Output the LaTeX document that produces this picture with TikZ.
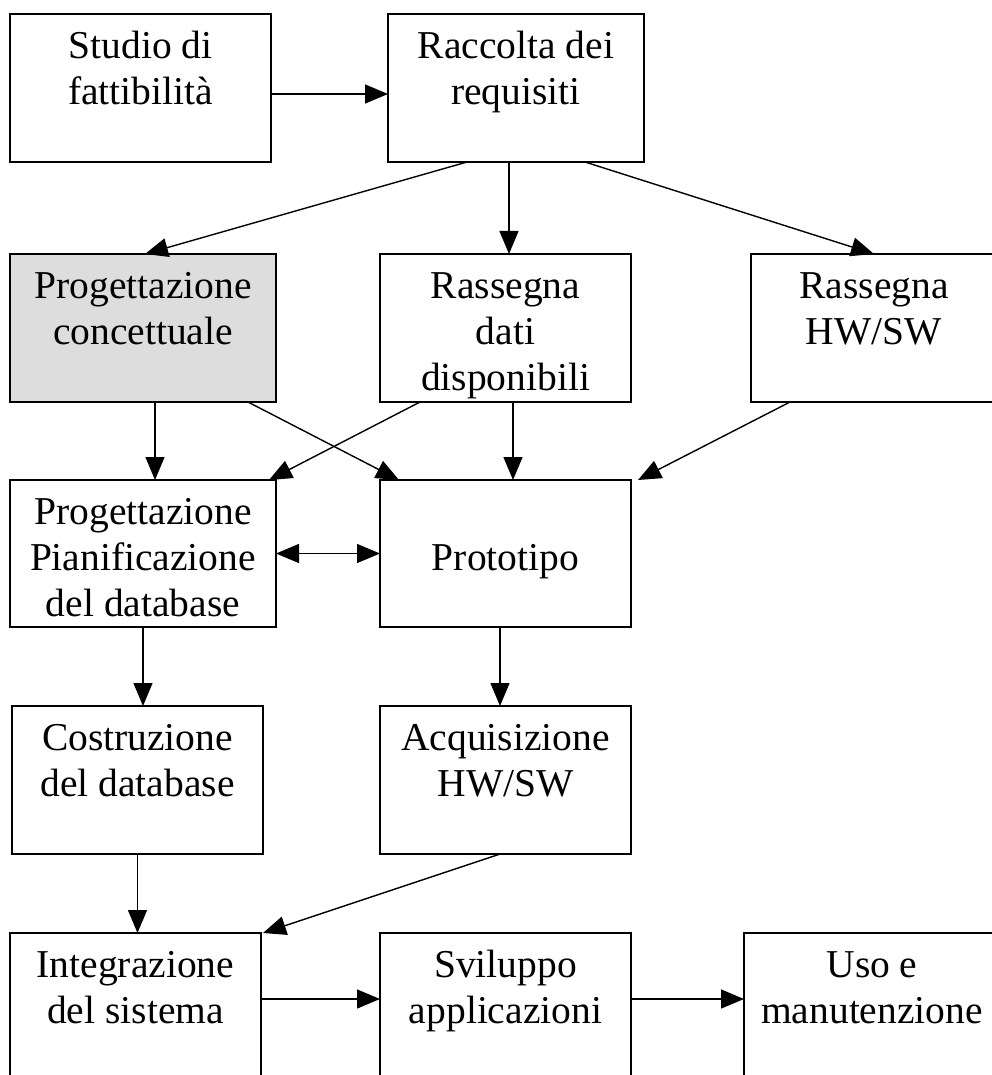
\documentclass[tikz,border=0pt]{standalone}
\usepackage{fontspec}
\setmainfont{Liberation Serif}
\usetikzlibrary{arrows.meta}
\definecolor{shade}{RGB}{221,221,221}
% box content: width, height (pt), lines of text set from the top
\newcommand\boxlines[3]{\begin{minipage}[c][#2pt][t]{#1pt}\centering\fontsize{39.5}{46}\selectfont\rule{0pt}{44.5pt}#3\end{minipage}}
\begin{document}
\begin{tikzpicture}[x=1pt,y=-1pt,
  box/.style={draw, line width=1.8pt, inner sep=0pt, outer sep=0pt, anchor=north west},
  tip/.tip={Triangle[length=23pt,width=19pt]},
  arr/.style={line width=1.4pt, -tip},
  arrboth/.style={line width=1.4pt, tip-tip}]
\useasboundingbox (0,0) rectangle (992,1075);
\clip (0,0) rectangle (992,1075);

% phases
\node[box] (b1) at (10,14) {\boxlines{261}{148}{Studio di\\fattibilità}};
\node[box] (b2) at (388,14) {\boxlines{256}{148}{Raccolta dei\\requisiti}};
\node[box, fill=shade] (b3) at (10,254) {\boxlines{266}{148}{Progettazione\\concettuale}};
\node[box] (b4) at (380,254) {\boxlines{251}{148}{Rassegna\\dati\\disponibili}};
\node[box] (b5) at (751,254) {\boxlines{246}{148}{Rassegna\\HW/SW}};
\node[box] (b6) at (10,480) {\boxlines{266}{147}{Progettazione\\Pianificazione\\del database}};
\node[box] (b7) at (380,480) {\boxlines{251}{147}{\mbox{}\\Prototipo}};
\node[box] (b8) at (12,706) {\boxlines{251}{148}{Costruzione\\del database}};
\node[box] (b9) at (380,706) {\boxlines{251}{148}{Acquisizione\\HW/SW}};
\node[box] (b10) at (10,933) {\boxlines{251}{160}{Integrazione\\del sistema}};
\node[box] (b11) at (380,933) {\boxlines{251}{160}{Sviluppo\\applicazioni}};
\node[box] (b12) at (744,933) {\boxlines{256}{160}{Uso e\\manutenzione}};

% flow
\draw[arr] ([yshift=-6pt]b1.east) -- ([yshift=-6pt]b2.west);
\draw[arr] ([xshift=-49pt]b2.south) -- ([xshift=2pt]b3.north);
\coordinate (d3) at ([xshift=-7pt]b2.south);
\draw[arr] (d3) -- (d3 |- b4.north);
\draw[arr] ([xshift=69pt]b2.south) -- (b5.north);
\coordinate (d5) at ([xshift=12pt]b3.south);
\draw[arr] (d5) -- (d5 |- b6.north);
\draw[arr] ([xshift=105pt]b3.south) -- ([xshift=19pt]b7.north west);
\draw[arr] ([xshift=-85.5pt]b4.south) -- ([xshift=-7pt]b6.north east);
\coordinate (d8) at ([xshift=7.5pt]b4.south);
\draw[arr] (d8) -- (d8 |- b7.north);
\draw[arr] ([xshift=-84pt]b5.south) -- ([xshift=7pt]b7.north east);
\draw[arrboth] (b6.east) -- (b7.west);
\draw[arr] (b6.south) -- (b6.south |- b8.north);
\coordinate (d12) at ([xshift=-5.5pt]b7.south);
\draw[arr] (d12) -- (d12 |- b9.north);
\draw[arr] (b8.south) -- (b8.south |- b10.north);
\draw[arr] ([xshift=-5.5pt]b9.south) -- ([xshift=2pt]b10.north east);
\coordinate (r10) at ([yshift=-66pt]b10.north east);
\draw[arr] (r10) -- (r10 -| b11.west);
\coordinate (r11) at ([yshift=-66pt]b11.north east);
\draw[arr] (r11) -- (r11 -| b12.west);
\end{tikzpicture}
\end{document}
